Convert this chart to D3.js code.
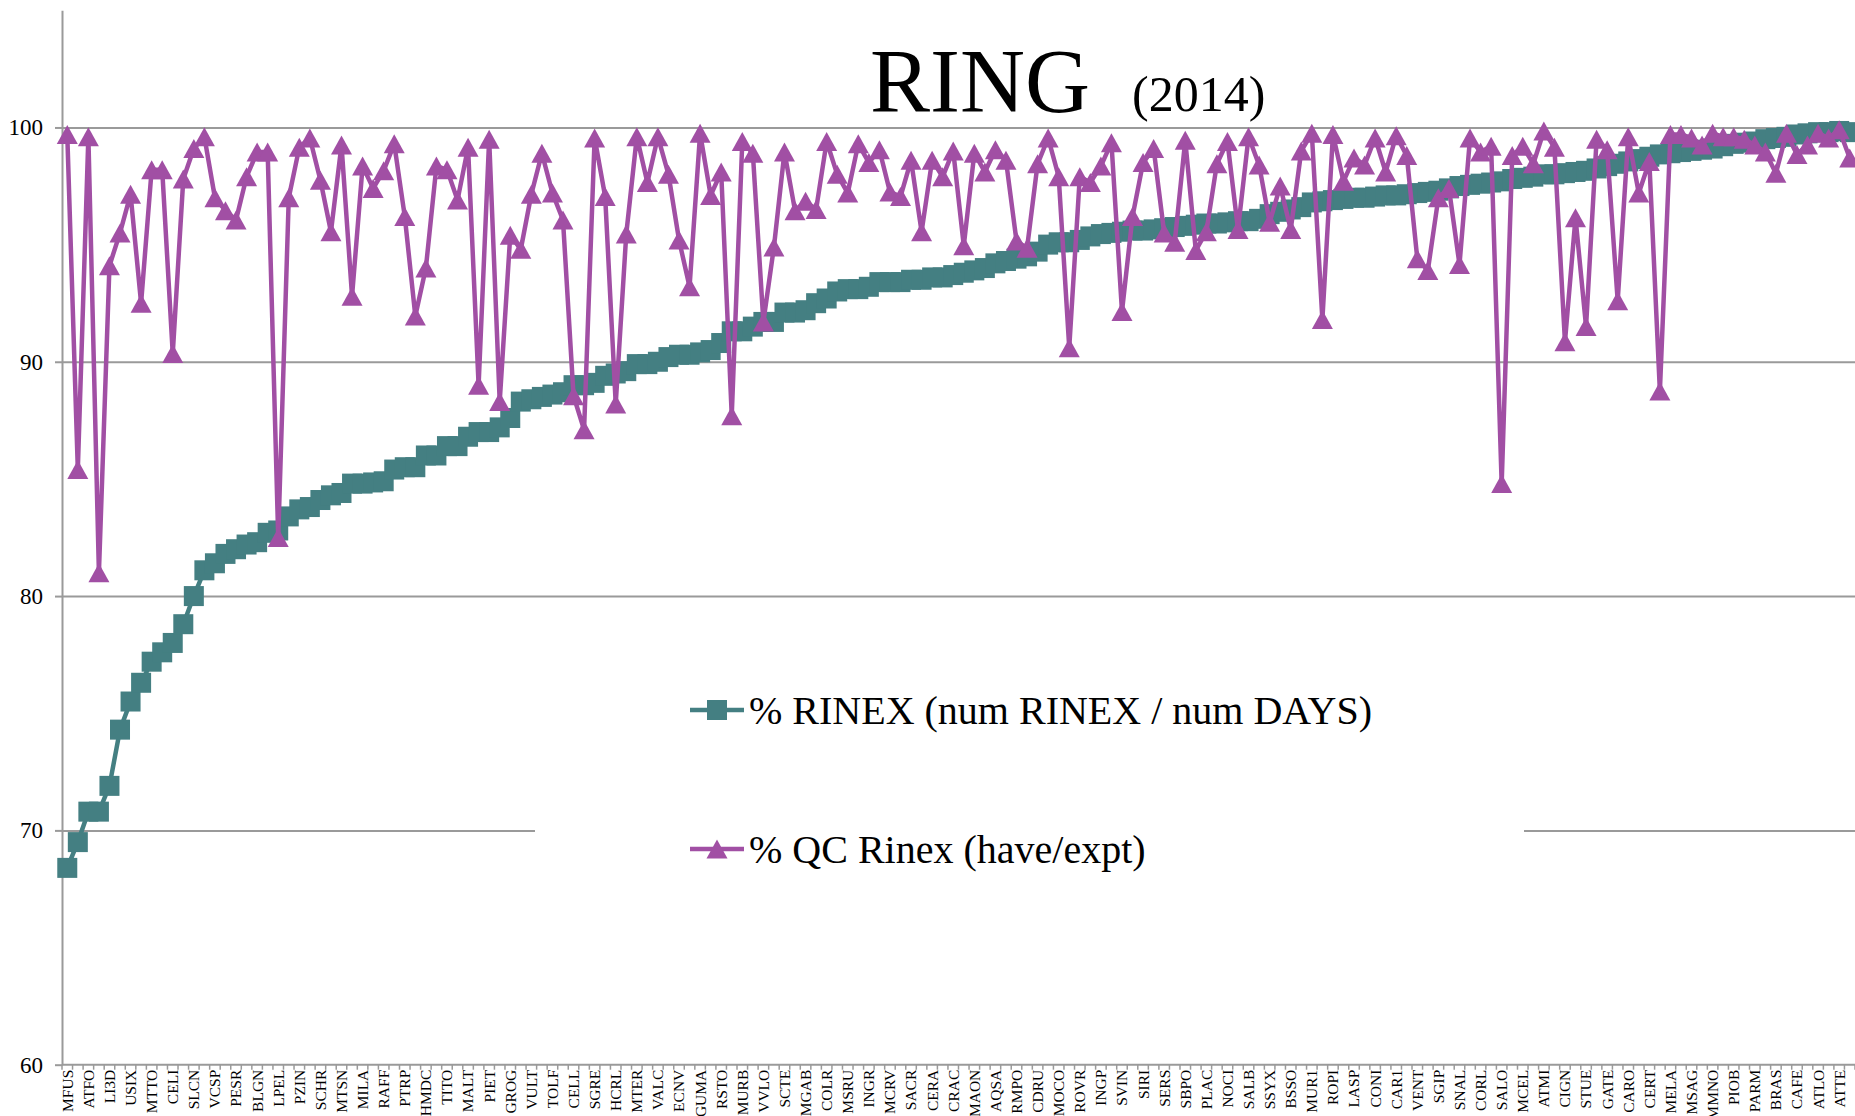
<!DOCTYPE html>
<html><head><meta charset="utf-8">
<script src="https://cdn.jsdelivr.net/npm/d3@7"></script>
<style>html,body{margin:0;padding:0;background:#fff;overflow:hidden}</style>
</head><body><svg id="c" width="1855" height="1116"></svg>
<script>
// ---- data ----
const tickLabels = ["MFUS","ATFO","LI3D","USIX","MTTO","CELI","SLCN","VCSP","PESR","BLGN","LPEL","PZIN","SCHR","MTSN","MILA","RAFF","PTRP","HMDC","TITO","MALT","PIET","GROG","VULT","TOLF","CELL","SGRE","HCRL","MTER","VALC","ECNV","GUMA","RSTO","MURB","VVLO","SCTE","MGAB","COLR","MSRU","INGR","MCRV","SACR","CERA","CRAC","MAON","AQSA","RMPO","CDRU","MOCO","ROVR","INGP","SVIN","SIRI","SERS","SBPO","PLAC","NOCI","SALB","SSYX","BSSO","MUR1","ROPI","LASP","CONI","CAR1","VENT","SGIP","SNAL","CORL","SALO","MCEL","ATMI","CIGN","STUE","GATE","CARO","CERT","MELA","MSAG","MMNO","PIOB","PARM","BRAS","CAFE","ATLO","ATTE"];

const rinexPct = [68.4,69.5,70.8,70.8,71.9,74.3,75.5,76.3,77.2,77.6,
 78.0,78.8,80.0,81.1,81.4,81.8,82.0,82.2,82.3,82.7,
 82.8,83.4,83.7,83.8,84.1,84.3,84.4,84.8,84.8,84.85,
 84.9,85.4,85.5,85.5,86.0,86.0,86.4,86.4,86.8,87.0,
 87.0,87.2,87.6,88.3,88.4,88.5,88.6,88.7,89.0,89.0,
 89.1,89.4,89.5,89.6,89.9,89.9,90.0,90.2,90.3,90.3,
 90.4,90.5,90.8,91.3,91.3,91.5,91.7,91.7,92.1,92.1,
 92.2,92.5,92.7,93.0,93.1,93.1,93.2,93.4,93.4,93.4,
 93.5,93.5,93.6,93.6,93.7,93.8,93.9,94.0,94.2,94.3,
 94.4,94.5,94.7,95.0,95.1,95.1,95.2,95.35,95.45,95.5,
 95.55,95.6,95.6,95.65,95.7,95.75,95.8,95.85,95.9,95.9,
 95.95,96.0,96.0,96.1,96.3,96.4,96.5,96.6,96.8,96.85,
 96.9,96.95,97.0,97.0,97.05,97.1,97.1,97.15,97.2,97.25,
 97.3,97.4,97.5,97.55,97.6,97.65,97.7,97.8,97.85,97.9,
 98.0,98.0,98.05,98.1,98.15,98.25,98.35,98.45,98.55,98.65,
 98.75,98.85,98.9,98.95,99.0,99.05,99.1,99.2,99.3,99.35,
 99.4,99.5,99.55,99.6,99.7,99.75,99.8,99.8,99.85,99.8];

const qcPct = [99.7,85.4,99.6,81.0,94.1,95.5,97.15,92.5,98.2,98.2,
 90.35,97.8,99.1,99.6,97.0,96.45,96.05,97.9,98.95,98.95,
 82.5,97.0,99.15,99.55,97.75,95.55,99.25,92.8,98.35,97.4,
 98.15,99.3,96.2,91.95,94.0,98.35,98.2,96.9,99.15,89.0,
 99.5,88.3,95.4,94.8,97.15,98.9,97.2,96.05,88.55,87.1,
 99.55,97.05,88.2,95.45,99.6,97.65,99.6,98.0,95.2,93.2,
 99.75,97.1,98.1,87.7,99.4,98.9,91.7,94.9,98.95,96.45,
 96.85,96.5,99.4,98.0,97.2,99.3,98.5,99.05,97.25,97.05,
 98.6,95.55,98.6,97.9,99.0,94.95,98.9,98.1,99.05,98.6,
 95.15,94.85,98.45,99.55,97.9,90.6,97.9,97.65,98.35,99.35,
 92.15,96.2,98.5,99.1,95.5,95.1,99.45,94.75,95.55,98.45,
 99.4,95.65,99.6,98.4,95.95,97.5,95.65,99.0,99.75,91.8,
 99.7,97.7,98.7,98.4,99.55,98.1,99.65,98.8,94.4,93.9,
 97.0,97.4,94.15,99.55,98.95,99.2,84.8,98.8,99.2,98.45,
 99.85,99.15,90.85,96.15,91.5,99.5,99.05,92.6,99.6,97.2,
 98.55,88.75,99.7,99.7,99.55,99.25,99.75,99.6,99.6,99.5,
 99.25,98.95,98.05,99.75,98.85,99.25,99.75,99.55,99.9,98.7];

const yTicks = [60,70,80,90,100];
const seriesNames = ["% RINEX (num RINEX / num DAYS)", "% QC Rinex (have/expt)"];
const titleMain = "RING";
const titleYear = "(2014)";

// ---- chart ----
const W = 1855, H = 1116;
const TEAL = "#447f82", PURPLE = "#a14fa4", GRID = "#9a9a9a";
const FONT = "'Liberation Serif', 'DejaVu Serif', serif";
const svg = d3.select("#c");

const idx = d3.range(rinexPct.length);
const x = d3.scaleBand().domain(idx).range([62, 1855]).padding(0);
const y = d3.scaleLinear().domain([60, 105]).range([1064.7, 10.3]);
const cx = i => x(i) + x.bandwidth() / 2;

// gridlines
const grid = svg.append("g").attr("transform", "translate(62,0)")
  .call(d3.axisLeft(y).tickValues(yTicks.slice(1)).tickSize(-(W - 62)).tickFormat(""));
grid.select(".domain").remove();
grid.selectAll("line").attr("stroke", GRID).attr("stroke-width", 2);

// y axis with labels
const ya = svg.append("g").attr("transform", "translate(62,0)")
  .call(d3.axisLeft(y).tickValues(yTicks).tickSize(7).tickSizeOuter(0).tickPadding(12).tickFormat(d3.format("d")));
ya.select(".domain").attr("stroke", GRID).attr("stroke-width", 2);
ya.selectAll("line").attr("stroke", GRID).attr("stroke-width", 2);
ya.selectAll("text").attr("font-family", FONT).attr("font-size", 23).attr("fill", "#000");

// x axis: line + ticks at band boundaries
svg.append("line").attr("x1", 62).attr("x2", W).attr("y1", y(60)).attr("y2", y(60))
  .attr("stroke", GRID).attr("stroke-width", 2);
svg.append("g").selectAll("line").data(idx.concat([idx.length])).join("line")
  .attr("x1", i => i < idx.length ? x(i) : x.range()[1])
  .attr("x2", i => i < idx.length ? x(i) : x.range()[1])
  .attr("y1", y(60)).attr("y2", y(60) + 5)
  .attr("stroke", GRID).attr("stroke-width", 1.5);

const xa = svg.append("g").attr("transform", `translate(0,${y(60)})`)
  .call(d3.axisBottom(x).tickValues(idx.filter(i => i % 2 === 0)).tickSize(0)
    .tickFormat(i => tickLabels[i / 2]));
xa.select(".domain").remove();
xa.selectAll("text")
  .attr("transform", "rotate(-90)")
  .attr("text-anchor", "end")
  .attr("x", -5).attr("y", 0).attr("dy", "0.35em")
  .attr("font-family", FONT).attr("font-size", 15.5).attr("fill", "#000");

// legend backdrop (covers gridline)
svg.append("rect").attr("x", 535).attr("y", 640).attr("width", 1524 - 535).attr("height", 280).attr("fill", "#fff");

// series
const line = d3.line().x((d, i) => cx(i)).y(d => y(d));
const sq = 20;
const triPath = (w, h) => `M0,${-h/2}L${w/2},${h/2}L${-w/2},${h/2}Z`;

svg.append("path").datum(rinexPct).attr("d", line)
  .attr("fill", "none").attr("stroke", TEAL).attr("stroke-width", 4.5).attr("stroke-linejoin", "round");
svg.append("g").selectAll("rect").data(rinexPct).join("rect")
  .attr("x", (d, i) => cx(i) - sq / 2).attr("y", d => y(d) - sq / 2)
  .attr("width", sq).attr("height", sq).attr("fill", TEAL);

svg.append("path").datum(qcPct).attr("d", line)
  .attr("fill", "none").attr("stroke", PURPLE).attr("stroke-width", 4.5).attr("stroke-linejoin", "round");
svg.append("g").selectAll("path").data(qcPct).join("path")
  .attr("d", triPath(21, 19))
  .attr("transform", (d, i) => `translate(${cx(i)},${y(d)})`)
  .attr("fill", PURPLE);

// legend
const leg = svg.append("g");
const legY = [710, 849];
const colors = [TEAL, PURPLE];
seriesNames.forEach((name, k) => {
  const g = leg.append("g").attr("transform", `translate(0,${legY[k]})`);
  g.append("line").attr("x1", 690).attr("x2", 744).attr("y1", 0).attr("y2", 0)
    .attr("stroke", colors[k]).attr("stroke-width", 4.5);
  if (k === 0) {
    g.append("rect").attr("x", 717 - sq / 2).attr("y", -sq / 2).attr("width", sq).attr("height", sq).attr("fill", colors[k]);
  } else {
    g.append("path").attr("d", triPath(21, 19)).attr("transform", "translate(717,0)").attr("fill", colors[k]);
  }
  g.append("text").attr("x", 749).attr("y", 0).attr("dy", "0.35em")
    .attr("font-family", FONT).attr("font-size", 40).attr("fill", "#000").text(name);
});

// title
svg.append("text").attr("x", 870).attr("y", 112).attr("font-family", FONT)
  .attr("font-size", 90).attr("fill", "#000").text(titleMain);
svg.append("text").attr("x", 1132).attr("y", 111).attr("font-family", FONT)
  .attr("font-size", 50).attr("fill", "#000").text(titleYear);
</script>
</body></html>
